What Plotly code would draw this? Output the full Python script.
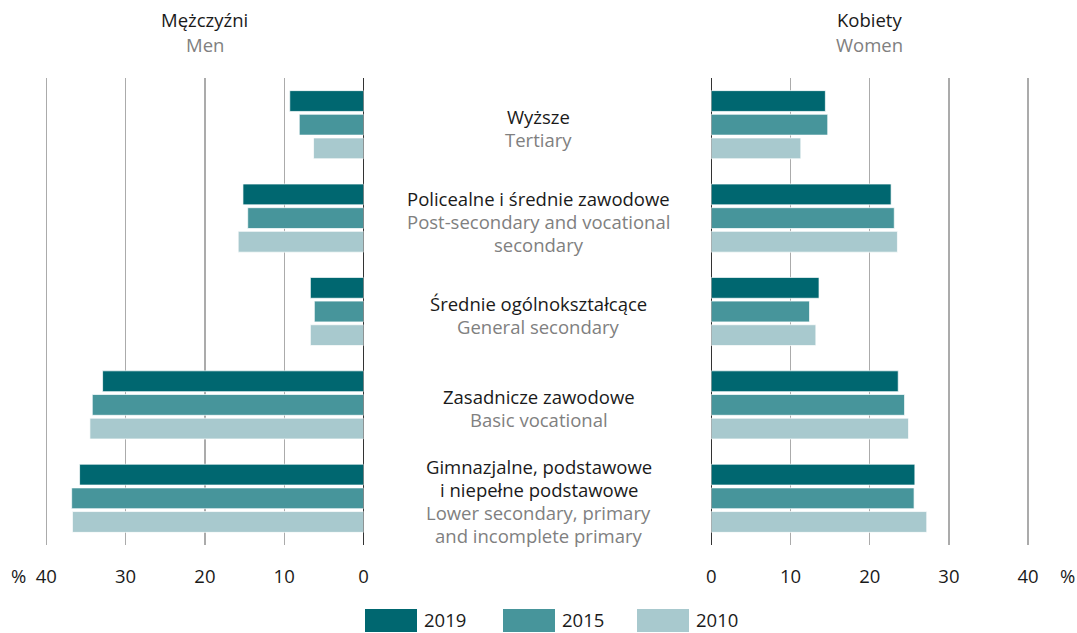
import plotly.graph_objects as go

categories = ["Wyższe", "Policealne", "Średnie", "Zasadnicze", "Gimnazjalne"]
labels_pl = [["Wyższe"], ["Policealne i średnie zawodowe"], ["Średnie ogólnokształcące"],
             ["Zasadnicze zawodowe"], ["Gimnazjalne, podstawowe", "i niepełne podstawowe"]]
labels_en = [["Tertiary"], ["Post-secondary and vocational", "secondary"], ["General secondary"],
             ["Basic vocational"], ["Lower secondary, primary", "and incomplete primary"]]
years = ["2019", "2015", "2010"]
men = {
    "2019": [9.3, 15.2, 6.7, 32.9, 35.8],
    "2015": [8.1, 14.6, 6.2, 34.2, 36.8],
    "2010": [6.3, 15.8, 6.7, 34.5, 36.7],
}
women = {
    "2019": [14.4, 22.7, 13.6, 23.6, 25.7],
    "2015": [14.7, 23.1, 12.4, 24.4, 25.6],
    "2010": [11.3, 23.5, 13.2, 24.9, 27.2],
}
tick_vals = [0, 10, 20, 30, 40]
colors = {"2019": "#006770", "2015": "#47959b", "2010": "#a8c9ce"}

FONT = "Open Sans"
FS = 18.5
BLACK = "#1a1a1a"
GRAY = "#808080"

fig = go.Figure()
for yr in years:
    fig.add_trace(go.Bar(y=categories, x=men[yr], orientation="h", name=yr,
                         marker=dict(color=colors[yr], line=dict(color="rgba(255,255,255,0.7)", width=1)),
                         xaxis="x", yaxis="y", showlegend=False))
for yr in years:
    fig.add_trace(go.Bar(y=categories, x=women[yr], orientation="h", name=yr,
                         marker=dict(color=colors[yr], line=dict(color="rgba(255,255,255,0.7)", width=1)),
                         xaxis="x2", yaxis="y2", showlegend=False))

W, H = 1077, 633
T, B = 78, 88
ph = H - T - B

def px_to_py(py):
    return (H - B - py) / ph

axis_common = dict(tickvals=tick_vals, showgrid=True, gridcolor="#ababab", gridwidth=1.3,
                   zeroline=True, zerolinecolor="#333333", zerolinewidth=1.5,
                   showline=False, ticks="", ticklabelstandoff=18, automargin=False,
                   tickfont=dict(family=FONT, size=FS, color=BLACK), fixedrange=True)

fig.update_layout(
    width=W, height=H,
    margin=dict(l=0, r=0, t=T, b=B, autoexpand=False),
    paper_bgcolor="white", plot_bgcolor="white",
    barmode="group", bargap=0.24, bargroupgap=0.12,
    showlegend=False,
    font=dict(family=FONT, size=FS, color=BLACK),
    xaxis=dict(domain=[43.9 / W, 363.5 / W], range=[40.3, 0], **axis_common),
    xaxis2=dict(domain=[711.3 / W, 1030.5 / W], range=[0, 40.3], **axis_common),
    yaxis=dict(anchor="x", categoryorder="array", categoryarray=categories, automargin=False,
               range=[4.5, -0.5], showticklabels=False, showgrid=False, zeroline=False,
               fixedrange=True),
    yaxis2=dict(anchor="x2", matches="y", categoryorder="array", categoryarray=categories,
                automargin=False, fixedrange=True,
                range=[4.5, -0.5], showticklabels=False, showgrid=False, zeroline=False),
)

def txt(x, y, text, color=BLACK, xanchor="center"):
    return dict(x=x, xref="paper", y=y, yref="paper", text=text, showarrow=False,
                xanchor=xanchor, yanchor="middle",
                font=dict(family=FONT, size=FS, color=color))

ann = []
LINE = 23
for c, pl, en in zip(categories, labels_pl, labels_en):
    lines = [(t, BLACK) for t in pl] + [(t, GRAY) for t in en]
    n = len(lines)
    for i, (t, col) in enumerate(lines):
        off = 3 + LINE * (i - (n - 1) / 2)
        ann.append(dict(x=0.5, xref="paper", y=c, yref="y", showarrow=False,
                        xanchor="center", yanchor="middle", text=t, yshift=-off,
                        font=dict(family=FONT, size=FS, color=col)))
# headers
ann += [
    txt(204.5 / W, px_to_py(20), "Mężczyźni"),
    txt(204.5 / W, px_to_py(45), "Men", GRAY),
    txt(869.5 / W, px_to_py(20), "Kobiety"),
    txt(869.5 / W, px_to_py(45), "Women", GRAY),
    txt(18 / W, px_to_py(575), "%"),
    txt(1067 / W, px_to_py(575), "%"),
]

# legend
leg_x = [365, 503, 637]
shapes = []
for yr, lx in zip(years, leg_x):
    shapes.append(dict(type="rect", xref="paper", yref="paper",
                       x0=lx / W, x1=(lx + 52) / W, y0=px_to_py(632), y1=px_to_py(609),
                       fillcolor=colors[yr], line=dict(width=0)))
    ann.append(txt((lx + 57) / W, px_to_py(619.5), yr, xanchor="left"))

fig.update_layout(annotations=ann, shapes=shapes)
fig.write_html("out.html", config={"displayModeBar": False, "staticPlot": True},
               post_script="document.body.style.margin='0';")
